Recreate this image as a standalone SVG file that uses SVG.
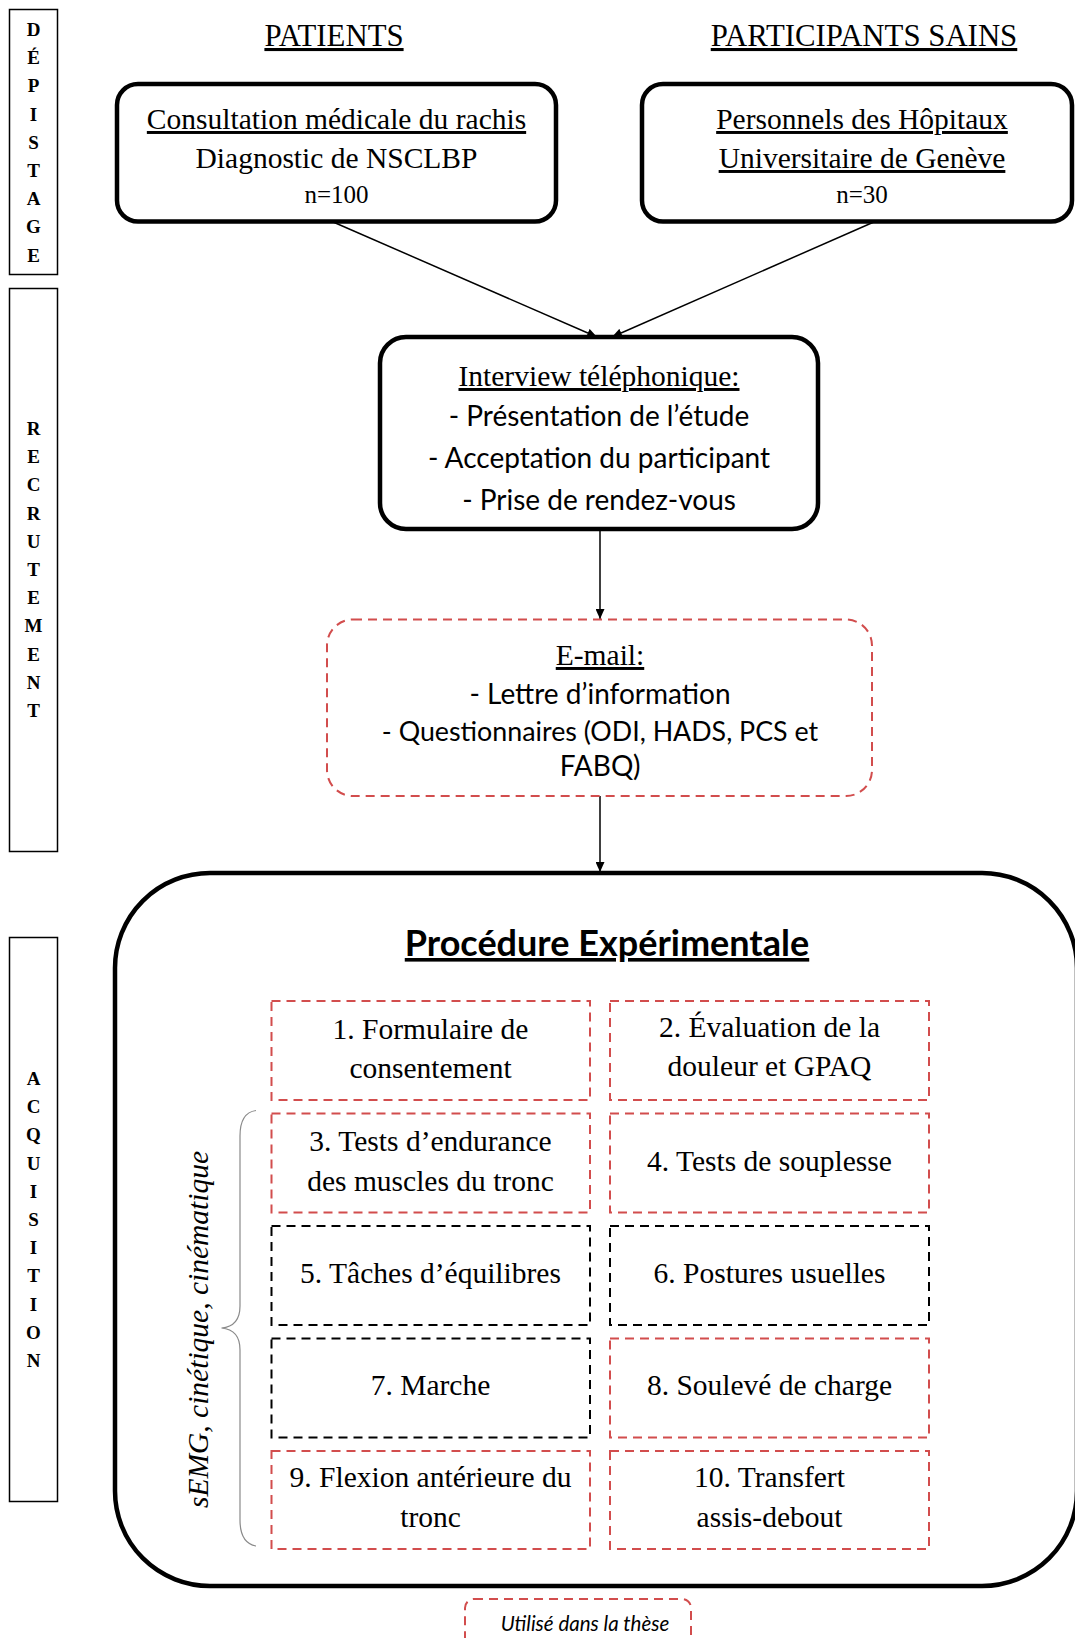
<svg xmlns="http://www.w3.org/2000/svg" width="1075" height="1638" viewBox="0 0 1075 1638">
  <defs>
    <marker id="arrow" markerUnits="userSpaceOnUse" markerWidth="10" markerHeight="9" refX="10" refY="4.5" orient="auto">
      <path d="M0,0 L10,4.5 L0,9 z" fill="#000"/>
    </marker>
    <style>
      .side{fill:none;stroke:#000;stroke-width:1.5}
      .sl{font-family:"Liberation Serif",serif;font-weight:bold;font-size:19px;text-anchor:middle;fill:#000}
      .serif{font-family:"Liberation Serif",serif;font-size:29.5px;text-anchor:middle;fill:#000}
      .head{font-size:30.8px}
      .small{font-size:25px}
      .u{text-decoration:underline}
      .sans{font-family:Lato,"Liberation Sans",sans-serif;font-size:28px;text-anchor:middle;fill:#000}
      .narrow{font-size:26.8px}
      .box{fill:#fff;stroke:#000;stroke-width:4.5}
      .red{fill:none;stroke:#d24d4d;stroke-width:2;stroke-dasharray:9 6}
      .blk{fill:none;stroke:#000;stroke-width:2;stroke-dasharray:9 6}
      .conn{stroke:#000;stroke-width:1.5;fill:none;marker-end:url(#arrow)}
    </style>
  </defs>

  <rect width="1075" height="1638" fill="#fff"/>

  <!-- phase labels down the left margin -->
  <g id="phase-depistage">
    <rect class="side" x="9.5" y="9.5" width="48" height="265"/>
    <text class="sl" x="33.5" y="36"><tspan x="33.5">D</tspan><tspan x="33.5" dy="28.2">É</tspan><tspan x="33.5" dy="28.2">P</tspan><tspan x="33.5" dy="28.2">I</tspan><tspan x="33.5" dy="28.2">S</tspan><tspan x="33.5" dy="28.2">T</tspan><tspan x="33.5" dy="28.2">A</tspan><tspan x="33.5" dy="28.2">G</tspan><tspan x="33.5" dy="28.2">E</tspan></text>
  </g>
  <g id="phase-recrutement">
    <rect class="side" x="9.5" y="288.5" width="48" height="563"/>
    <text class="sl" x="33.5" y="435"><tspan x="33.5">R</tspan><tspan x="33.5" dy="28.2">E</tspan><tspan x="33.5" dy="28.2">C</tspan><tspan x="33.5" dy="28.2">R</tspan><tspan x="33.5" dy="28.2">U</tspan><tspan x="33.5" dy="28.2">T</tspan><tspan x="33.5" dy="28.2">E</tspan><tspan x="33.5" dy="28.2">M</tspan><tspan x="33.5" dy="28.2">E</tspan><tspan x="33.5" dy="28.2">N</tspan><tspan x="33.5" dy="28.2">T</tspan></text>
  </g>
  <g id="phase-acquisition">
    <rect class="side" x="9.5" y="937.5" width="48" height="564"/>
    <text class="sl" x="33.5" y="1085"><tspan x="33.5">A</tspan><tspan x="33.5" dy="28.2">C</tspan><tspan x="33.5" dy="28.2">Q</tspan><tspan x="33.5" dy="28.2">U</tspan><tspan x="33.5" dy="28.2">I</tspan><tspan x="33.5" dy="28.2">S</tspan><tspan x="33.5" dy="28.2">I</tspan><tspan x="33.5" dy="28.2">T</tspan><tspan x="33.5" dy="28.2">I</tspan><tspan x="33.5" dy="28.2">O</tspan><tspan x="33.5" dy="28.2">N</tspan></text>
  </g>

  <!-- column headers -->
  <g id="headers">
    <text class="serif head u" x="334" y="46">PATIENTS</text>
    <text class="serif head u" x="864" y="46">PARTICIPANTS SAINS</text>
  </g>

  <!-- connectors -->
  <g id="connectors">
    <line class="conn" x1="332" y1="221.5" x2="597" y2="337"/>
    <line class="conn" x1="875" y1="221.5" x2="612" y2="337"/>
    <line class="conn" x1="600" y1="529" x2="600" y2="619"/>
    <line class="conn" x1="600" y1="796" x2="600" y2="872"/>
  </g>

  <g id="patients">
    <rect class="box" x="117" y="84" width="439" height="137.5" rx="21"/>
    <text class="serif u" x="336.5" y="129">Consultation médicale du rachis</text>
    <text class="serif" x="336.5" y="168">Diagnostic de NSCLBP</text>
    <text class="serif small" x="336.5" y="203">n=100</text>
  </g>

  <g id="sains">
    <rect class="box" x="642" y="84" width="430" height="137.5" rx="21"/>
    <text class="serif u" x="862" y="129">Personnels des Hôpitaux</text>
    <text class="serif u" x="862" y="168">Universitaire de Genève</text>
    <text class="serif small" x="862" y="203">n=30</text>
  </g>

  <g id="interview">
    <rect class="box" x="380" y="337" width="438" height="192" rx="26"/>
    <text class="serif u" x="599" y="386">Interview téléphonique:</text>
    <text class="sans" x="599" y="426">- Présentation de l’étude</text>
    <text class="sans" x="599" y="468">- Acceptation du participant</text>
    <text class="sans" x="599" y="510">- Prise de rendez-vous</text>
  </g>

  <g id="email">
    <rect class="red" x="327" y="619.5" width="545" height="176.5" rx="26"/>
    <text class="serif u" x="600" y="665">E-mail:</text>
    <text class="sans" x="600" y="704">- Lettre d’information</text>
    <text class="sans narrow" x="600" y="741">- Questionnaires (ODI, HADS, PCS et</text>
    <text class="sans" x="600" y="776">FABQ)</text>
  </g>

  <g id="procedure">
    <rect class="box" x="115" y="873" width="962" height="713" rx="95"/>
    <text x="607" y="956" font-family="Lato, 'Liberation Sans', sans-serif" font-weight="bold" font-size="36" text-anchor="middle" text-decoration="underline">Procédure Expérimentale</text>
  </g>

  <g id="step-1">
    <rect class="red" x="271.5" y="1001" width="318.5" height="99"/>
    <text class="serif" x="430.5" y="1039">1. Formulaire de</text>
    <text class="serif" x="430.5" y="1078">consentement</text>
  </g>
  <g id="step-2">
    <rect class="red" x="610" y="1001" width="319" height="99"/>
    <text class="serif" x="769.5" y="1037">2. Évaluation de la</text>
    <text class="serif" x="769.5" y="1076">douleur et GPAQ</text>
  </g>
  <g id="step-3">
    <rect class="red" x="271.5" y="1113.5" width="318.5" height="99"/>
    <text class="serif" x="430.5" y="1151">3. Tests d’endurance</text>
    <text class="serif" x="430.5" y="1190.5">des muscles du tronc</text>
  </g>
  <g id="step-4">
    <rect class="red" x="610" y="1113.5" width="319" height="99"/>
    <text class="serif" x="769.5" y="1171">4. Tests de souplesse</text>
  </g>
  <g id="step-5">
    <rect class="blk" x="271.5" y="1226" width="318.5" height="99"/>
    <text class="serif" x="430.5" y="1282.5">5. Tâches d’équilibres</text>
  </g>
  <g id="step-6">
    <rect class="blk" x="610" y="1226" width="319" height="99"/>
    <text class="serif" x="769.5" y="1282.5">6. Postures usuelles</text>
  </g>
  <g id="step-7">
    <rect class="blk" x="271.5" y="1338.5" width="318.5" height="99"/>
    <text class="serif" x="430.5" y="1395">7. Marche</text>
  </g>
  <g id="step-8">
    <rect class="red" x="610" y="1338.5" width="319" height="99"/>
    <text class="serif" x="769.5" y="1395">8. Soulevé de charge</text>
  </g>
  <g id="step-9">
    <rect class="red" x="271.5" y="1451" width="318.5" height="98"/>
    <text class="serif" x="430.5" y="1487">9. Flexion antérieure du</text>
    <text class="serif" x="430.5" y="1527">tronc</text>
  </g>
  <g id="step-10">
    <rect class="red" x="610" y="1451" width="319" height="98"/>
    <text class="serif" x="769.5" y="1487">10. Transfert</text>
    <text class="serif" x="769.5" y="1527">assis-debout</text>
  </g>

  <!-- brace grouping steps 3 to 10 -->
  <g id="measures">
    <path d="M256 1110.5 C245 1112 240 1120 240 1136 L240 1306 C240 1320 233 1327 221.5 1328 C233 1329 240 1336 240 1350 L240 1520 C240 1536 245 1544 256 1546" fill="none" stroke="#8a8a8a" stroke-width="1.2"/>
    <text class="serif" x="0" y="0" font-style="italic" transform="translate(208 1329.5) rotate(-90)">sEMG, cinétique, cinématique</text>
  </g>

  <g id="legend">
    <rect class="red" x="465" y="1599" width="226" height="60" rx="9"/>
    <text x="585" y="1631" font-family="Lato, 'Liberation Sans', sans-serif" font-style="italic" font-size="20.5" text-anchor="middle">Utilisé dans la thèse</text>
  </g>
</svg>
